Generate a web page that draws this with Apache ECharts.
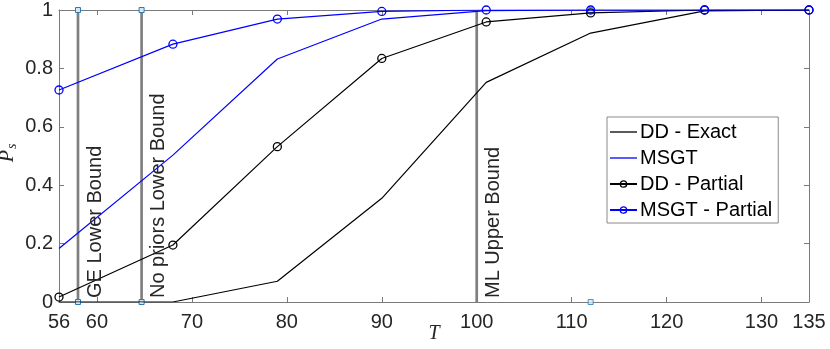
<!DOCTYPE html>
<html>
<head>
<meta charset="utf-8">
<script src="https://cdn.jsdelivr.net/npm/echarts@6/dist/echarts.min.js"></script>
<style>
  html, body { margin: 0; padding: 0; background: #fff; }
  #chart { width: 830px; height: 349px; }
</style>
</head>
<body>
<div id="chart"></div>
<script>
(function () {
  // data
  const T = [56, 68, 79, 90, 101, 112, 124, 135];
  const ddExact = [0, 0, 0.071, 0.355, 0.752, 0.921, 0.997, 1];
  const msgt = [0.183, 0.503, 0.832, 0.969, 0.998, 1, 1, 1];
  const ddPartial = [0.017, 0.195, 0.532, 0.834, 0.959, 0.99, 1, 1];
  const msgtPartial = [0.726, 0.883, 0.969, 0.995, 1, 1, 1, 1];

  const boundT = [58, 64.7, 100];
  const boundNames = ['GE Lower Bound', 'No priors Lower Bound', 'ML Upper Bound'];
  const boundHasMarkers = [true, true, false];
  const extraMarkerT = [112];

  const xTicks = [56, 60, 70, 80, 90, 100, 110, 120, 130, 135];
  const seriesNames = ['DD - Exact', 'MSGT', 'DD - Partial', 'MSGT - Partial'];

  const FONT = 'Liberation Sans, Arial, sans-serif';
  const SERIF = 'Liberation Serif, serif';
  const AXIS = '#7a7a7a';
  const TXT = '#262626';

  const pairs = ys => T.map((t, i) => [t, ys[i]]);

  function axisX(pos, withLabels) {
    return {
      type: 'value', min: 56, max: 135, position: pos,
      axisLine: { show: true, onZero: false, lineStyle: { color: AXIS, width: 1 } },
      axisTick: { show: true, inside: true, length: 5, customValues: xTicks, lineStyle: { color: AXIS } },
      axisLabel: withLabels
        ? { show: true, customValues: xTicks, fontSize: 20, fontFamily: FONT, color: TXT, margin: 10 }
        : { show: false },
      splitLine: { show: false }
    };
  }
  function axisY(pos, withLabels) {
    return {
      type: 'value', min: 0, max: 1, interval: 0.2, position: pos,
      axisLine: { show: true, onZero: false, lineStyle: { color: AXIS, width: 1 } },
      axisTick: { show: true, inside: true, length: 5, lineStyle: { color: AXIS } },
      axisLabel: withLabels
        ? { show: true, fontSize: 20, fontFamily: FONT, color: TXT, margin: 6,
            formatter: v => String(+v.toFixed(1)) }
        : { show: false },
      splitLine: { show: false }
    };
  }

  const xBottom = axisX('bottom', true);
  xBottom.name = 'T';
  xBottom.nameLocation = 'middle';
  xBottom.nameGap = 22;
  xBottom.nameMoveOverlap = false;
  xBottom.nameTextStyle = { fontFamily: SERIF, fontStyle: 'italic', fontSize: 20, color: TXT };

  const series = [];

  boundT.forEach((t, i) => {
    series.push({
      name: 'bound' + i,
      type: 'line',
      data: [[t, 0], [t, 1]],
      silent: true,
      z: 1,
      symbol: boundHasMarkers[i] ? 'rect' : 'none',
      symbolSize: 5,
      itemStyle: { color: '#d6e7f4', borderColor: '#2b7bb9', borderWidth: 1 },
      lineStyle: { color: '#7f7f7f', width: 2.7 }
    });
  });
  series.push({
    name: 'extra',
    type: 'scatter',
    data: extraMarkerT.flatMap(t => [[t, 0], [t, 1]]),
    silent: true,
    z: 1,
    symbol: 'rect',
    symbolSize: 5,
    itemStyle: { color: '#d6e7f4', borderColor: '#2b7bb9', borderWidth: 1 }
  });

  const lineDefs = [
    { ys: ddExact, color: '#000000', marker: false },
    { ys: msgt, color: '#0000ff', marker: false },
    { ys: ddPartial, color: '#000000', marker: true },
    { ys: msgtPartial, color: '#0000ff', marker: true }
  ];
  lineDefs.forEach((d, i) => {
    series.push({
      name: seriesNames[i],
      type: 'line',
      data: pairs(d.ys),
      z: 3,
      symbol: d.marker ? 'circle' : 'none',
      showSymbol: d.marker,
      symbolSize: 8,
      itemStyle: { color: 'rgba(255,255,255,0)', borderColor: d.color, borderWidth: 1.3 },
      lineStyle: { color: d.color, width: 1.2 }
    });
  });

  // plain line icon for the series without markers
  const legendData = seriesNames.map((name, i) => lineDefs[i].marker
    ? { name: name }
    : {
        name: name,
        icon: 'path://M0,0 L27,0 L27,1.3 L0,1.3 Z',
        itemStyle: { color: lineDefs[i].color, borderWidth: 0 }
      });

  const chart = echarts.init(document.getElementById('chart'));
  chart.setOption({
    animation: false,
    backgroundColor: '#fff',
    grid: { left: 59, right: 21, top: 10, bottom: 47, containLabel: false, outerBoundsMode: 'none' },
    xAxis: [xBottom, axisX('top', false)],
    yAxis: [axisY('left', true), axisY('right', false)],
    legend: {
      data: legendData,
      orient: 'vertical',
      left: 607,
      top: 117,
      padding: [5, 6, 3, 2],
      itemWidth: 27,
      itemHeight: 8,
      itemGap: 6,
      itemStyle: { borderWidth: 1.3 },
      textStyle: { fontSize: 20, fontFamily: FONT, color: '#000', padding: [0, 0, 0, -2] },
      backgroundColor: '#fff',
      borderColor: '#8a8a8a',
      borderWidth: 1,
      selectedMode: false
    },
    series: series
  });

  // rotated annotations next to the bound lines
  const graphics = boundT.map((t, i) => {
    const p = chart.convertToPixel({ gridIndex: 0 }, [t, 0]);
    return {
      type: 'text',
      x: p[0] + 17,
      y: p[1] - 4,
      rotation: Math.PI / 2,
      z: 10,
      style: {
        text: boundNames[i],
        fontSize: 20,
        fontFamily: FONT,
        fill: TXT,
        align: 'left',
        verticalAlign: 'middle'
      }
    };
  });

  // y-axis title P_s
  const mid = chart.convertToPixel({ gridIndex: 0 }, [56, 0.5]);
  graphics.push({
    type: 'text',
    x: mid[0] - 51,
    y: mid[1] - 3,
    rotation: Math.PI / 2,
    z: 10,
    style: {
      text: '{p|P}{s|s}',
      align: 'center',
      verticalAlign: 'middle',
      rich: {
        p: { fontFamily: SERIF, fontStyle: 'italic', fontSize: 20, fill: TXT },
        s: { fontFamily: SERIF, fontStyle: 'italic', fontSize: 14, fill: TXT, padding: [9, 0, 0, 1] }
      }
    }
  });
  chart.setOption({ graphic: graphics });

  window.addEventListener('resize', () => chart.resize());
})();
</script>
</body>
</html>
